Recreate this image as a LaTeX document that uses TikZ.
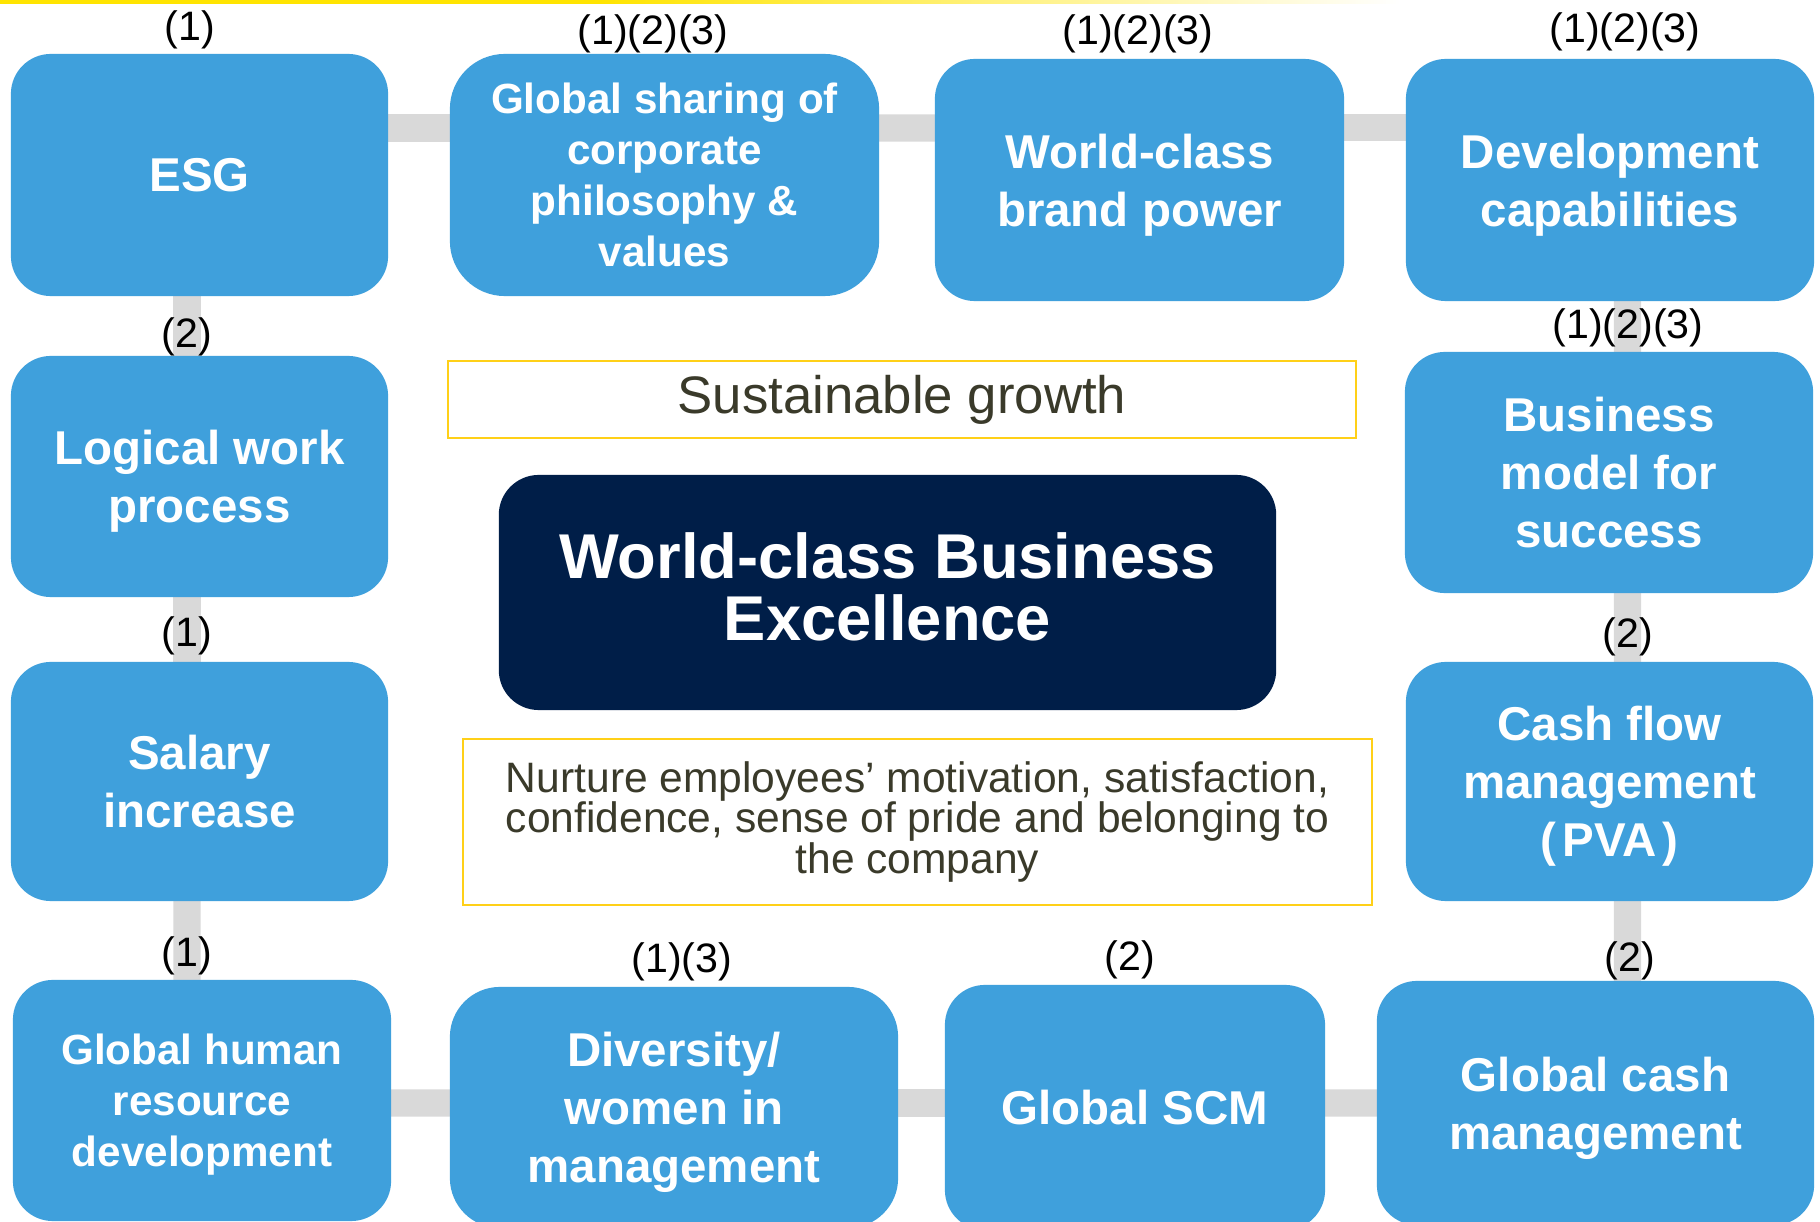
\documentclass[tikz,border=0pt]{standalone}
\usepackage{fontspec}
\setmainfont{Liberation Sans}
\pgfdeclarelayer{background}
\pgfsetlayers{background,main}
\definecolor{boxblue}{RGB}{63,160,220}
\definecolor{navy}{RGB}{0,30,72}
\definecolor{olive}{RGB}{58,58,42}
\definecolor{frameyellow}{RGB}{255,208,24}
\definecolor{topyellow}{RGB}{255,228,0}
\definecolor{bargray}{RGB}{217,217,217}
\begin{document}
\begin{tikzpicture}[x=0.01cm,y=-0.01cm,
  bbox/.style={fill=boxblue, rounded corners=0.4cm, inner sep=0pt, text=white, align=center, text depth=0pt,
    font=\bfseries\fontsize{13.5}{16.5}\selectfont},
  smalltxt/.style={font=\bfseries\fontsize{12}{14.5}\selectfont},
  tag/.style={anchor=base, inner sep=0pt, font=\fontsize{11.7}{14}\selectfont},
  bar/.style={draw=bargray, line width=7.7pt},
  ybox/.style={draw=frameyellow, line width=0.6pt, fill=white, inner sep=0pt, align=center, text=olive}]

\useasboundingbox (0,0) rectangle (1820,1222);

% top accent line
\fill[topyellow] (0,0) rectangle (600,4);
\shade[left color=topyellow, right color=white] (600,0) rectangle (1400,4);

% outer ring of boxes
\node[bbox, minimum width=3.77cm, minimum height=2.42cm] (esg) at (199.5,175) {ESG};
\node[bbox, smalltxt, rounded corners=0.55cm, minimum width=4.29cm, minimum height=2.42cm] (gshare) at (664.5,175)
  {Global sharing of\\corporate\\philosophy \&\\values};
\node[bbox, minimum width=4.09cm, minimum height=2.42cm] (brand) at (1139.5,180) {World-class\\brand power};
\node[bbox, minimum width=4.08cm, minimum height=2.42cm] (dev) at (1610,180) {Development\\capabilities};

\node[bbox, minimum width=3.77cm, minimum height=2.41cm] (logic) at (199.5,476.5) {Logical work\\process};
\node[bbox, minimum width=3.77cm, minimum height=2.39cm] (salary) at (199.5,781.5) {Salary\\increase};
\node[bbox, smalltxt, minimum width=3.78cm, minimum height=2.41cm] (ghr) at (202,1100.5)
  {Global human\\resource\\development};

\node[bbox, minimum width=4.08cm, minimum height=2.41cm] (bmodel) at (1609,472.5) {Business\\model for\\success};
\node[bbox, minimum width=4.07cm, minimum height=2.39cm] (cashflow) at (1609.5,781.5)
  {Cash flow\\management\\(\hspace{0.12em}PVA\hspace{0.12em})};

\node[bbox, rounded corners=0.5cm, minimum width=4.48cm, minimum height=2.41cm] (divers) at (674,1107.5)
  {Diversity/\\women in\\management};
\node[bbox, minimum width=3.80cm, minimum height=2.45cm] (scm) at (1135,1107.5) {Global SCM};
\node[bbox, minimum width=4.37cm, minimum height=2.44cm] (gcash) at (1595.5,1103) {Global cash\\management};

% centre
\node[ybox, minimum width=9.08cm, minimum height=0.77cm, font=\fontsize{15}{18}\selectfont] (growth) at (902,399.5)
  {Sustainable growth};
\node[fill=navy, rounded corners=0.4cm, inner sep=0pt, minimum width=7.77cm, minimum height=2.35cm,
  text=white, align=center, text depth=0.12cm, font=\bfseries\fontsize{18}{17.6}\selectfont] (wcbe) at (887.5,592.5)
  {World-class Business\\Excellence};
\node[ybox, minimum width=9.09cm, minimum height=1.66cm, font=\fontsize{12.1}{11.4}\selectfont] (nurture) at (917.5,822)
  {Nurture employees’ motivation, satisfaction,\\confidence, sense of pride and belonging to\\the company};

% connecting bars behind the boxes
\begin{pgfonlayer}{background}
\fill[white] (0,0) rectangle (1820,1222);
\draw[bar] ([yshift=0.47cm]esg.center) -- ([yshift=0.47cm]gshare.center);
\draw[bar] ([yshift=0.47cm]gshare.center) -- ([yshift=0.52cm]brand.center);
\draw[bar] ([yshift=0.52cm]brand.center) -- ([yshift=0.52cm]dev.center);
\draw[bar] ([xshift=-0.125cm]esg.center) -- ([xshift=-0.125cm]logic.center);
\draw[bar] ([xshift=-0.125cm]logic.center) -- ([xshift=-0.125cm]salary.center);
\draw[bar] ([xshift=-0.125cm]salary.center) -- ([xshift=-0.15cm]ghr.center);
\draw[bar] ([xshift=0.175cm]dev.center) -- ([xshift=0.185cm]bmodel.center);
\draw[bar] ([xshift=0.185cm]bmodel.center) -- ([xshift=0.18cm]cashflow.center);
\draw[bar] ([xshift=0.18cm]cashflow.center) -- ([xshift=0.32cm]gcash.center);
\draw[bar] ([yshift=-0.025cm]ghr.center) -- ([yshift=0.045cm]divers.center);
\draw[bar] ([yshift=0.045cm]divers.center) -- ([yshift=0.045cm]scm.center);
\draw[bar] ([yshift=0.045cm]scm.center) -- (gcash.center);
\end{pgfonlayer}

% link labels
\node[tag] (t-esg) at (190,41) {(1)};
\node[tag] (t-gshare) at (653,45) {(1)(2)(3)};
\node[tag] (t-brand) at (1138,45) {(1)(2)(3)};
\node[tag] (t-dev) at (1625,43) {(1)(2)(3)};
\node[tag] (t-logic) at (187,348) {(2)};
\node[tag] (t-bmodel) at (1628,339) {(1)(2)(3)};
\node[tag] (t-salary) at (187,646.5) {(1)};
\node[tag] (t-cashflow) at (1628,647.5) {(2)};
\node[tag] (t-ghr) at (187,967) {(1)};
\node[tag] (t-divers) at (682,973) {(1)(3)};
\node[tag] (t-scm) at (1130,971) {(2)};
\node[tag] (t-gcash) at (1630,972) {(2)};
\end{tikzpicture}
\end{document}
